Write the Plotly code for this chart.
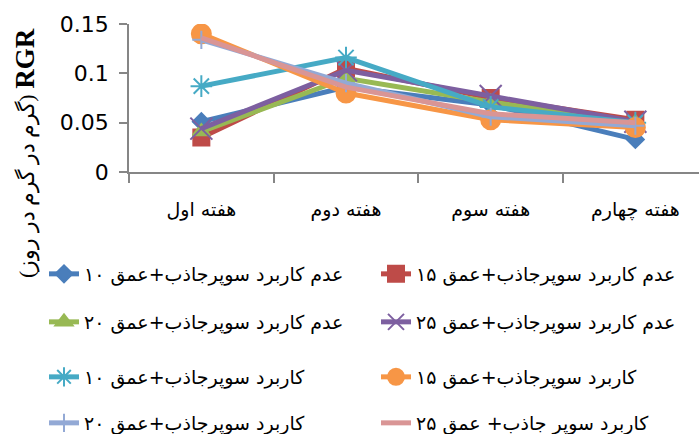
import plotly.graph_objects as go

# Weekly relative growth rate (RGR) for each treatment
weeks = ["هفته اول", "هفته دوم", "هفته سوم", "هفته چهارم"]

no_sap_10 = [0.051, 0.086, 0.068, 0.033]
no_sap_15 = [0.035, 0.105, 0.075, 0.053]
no_sap_20 = [0.041, 0.095, 0.071, 0.050]
no_sap_25 = [0.044, 0.103, 0.077, 0.051]
sap_10 = [0.087, 0.116, 0.066, 0.050]
sap_15 = [0.140, 0.080, 0.053, 0.045]
sap_20 = [0.134, 0.090, 0.056, 0.047]
sap_25 = [0.136, 0.086, 0.059, 0.050]

names = [
    "عدم کاربرد سوپرجاذب+عمق ۱۰",
    "عدم کاربرد سوپرجاذب+عمق ۱۵",
    "عدم کاربرد سوپرجاذب+عمق ۲۰",
    "عدم کاربرد سوپرجاذب+عمق ۲۵",
    "کاربرد سوپرجاذب+عمق ۱۰",
    "کاربرد سوپرجاذب+عمق ۱۵",
    "کاربرد سوپرجاذب+عمق ۲۰",
    "کاربرد سوپر جاذب+ عمق ۲۵",
]
series = [no_sap_10, no_sap_15, no_sap_20, no_sap_25, sap_10, sap_15, sap_20, sap_25]

colors = ["#4A7EBB", "#BE4B48", "#98B954", "#7D5FA0", "#46AAC5", "#F79646", "#93A9D5", "#D99595"]
symbols = ["diamond", "square", "triangle-up", "x-thin-open", "asterisk-open",
           "circle", "cross-thin-open", None]
sizes = [13, 16, 15, 22, 18, 19, 13, 0]

W, H = 699, 434
L, R, T, B = 129, 0, 24, 262
PW, PH = W - L - R, H - T - B

def px_x(x):
    return (x - L) / PW

def px_y(y):
    return (H - B - y) / PH

fig = go.Figure()
legend_ids = ["legend", "legend2", "legend3", "legend4",
              "legend5", "legend6", "legend7", "legend8"]
for i, (nm, vals) in enumerate(zip(names, series)):
    if symbols[i] is None:
        mode = "lines"
        marker = dict()
    else:
        mode = "lines+markers"
        marker = dict(symbol=symbols[i], size=sizes[i], color=colors[i],
                      line=dict(color=colors[i], width=2))
    fig.add_trace(go.Scatter(
        x=weeks, y=vals, name=nm, mode=mode,
        line=dict(color=colors[i], width=5),
        marker=marker,
        legend=legend_ids[i],
    ))

# Legend entries laid out in two columns, four rows
col_x = [44, 376]
row_y = [274, 322, 377, 423]
legend_font = dict(family="DejaVu Sans", size=19, color="#000000")
layout_legends = {}
for i, lid in enumerate(legend_ids):
    r, c = divmod(i, 2)
    layout_legends[lid] = dict(
        x=px_x(col_x[c]), y=px_y(row_y[r]),
        xanchor="left", yanchor="middle",
        orientation="h", font=legend_font,
        bgcolor="rgba(0,0,0,0)", borderwidth=0,
    )

fig.update_layout(
    width=W, height=H,
    margin=dict(l=L, r=R, t=T, b=B, autoexpand=False),
    paper_bgcolor="white", plot_bgcolor="white",
    showlegend=True,
    **layout_legends,
)

fig.update_xaxes(
    type="category", range=[-0.5, 3.44],
    showline=True, linecolor="#868686", linewidth=1.5,
    ticks="outside", tickson="boundaries", ticklen=9, tickcolor="#868686", tickwidth=1.5,
    showgrid=False, zeroline=False,
    tickfont=dict(family="DejaVu Sans", size=19, color="#000000"),
    ticklabelstandoff=19,
)
fig.update_yaxes(
    range=[0, 0.15], dtick=0.05, tick0=0,
    showline=True, linecolor="#868686", linewidth=1.5,
    ticks="outside", ticklen=8, tickcolor="#868686", tickwidth=1.5,
    showgrid=False, zeroline=False,
    tickfont=dict(family="DejaVu Sans", size=22, color="#000000"),
    ticklabelstandoff=6,
)

# Rotated y-axis title
fig.add_annotation(
    text="(گرم در گرم در روز) <b><span style='font-size:27px'>RGR</span></b>",
    xref="paper", yref="paper",
    x=px_x(25), y=px_y(153),
    xanchor="center", yanchor="middle",
    textangle=-90, showarrow=False,
    font=dict(family="Liberation Serif, DejaVu Serif", size=22, color="#000000"),
)

fig.write_html("out.html")
